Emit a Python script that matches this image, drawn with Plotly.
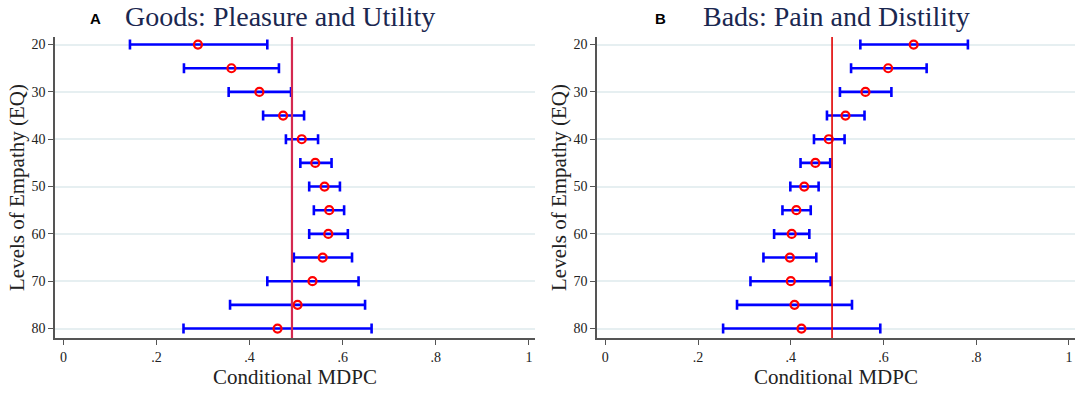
import plotly.graph_objects as go

eq_levels = [20, 25, 30, 35, 40, 45, 50, 55, 60, 65, 70, 75, 80]

goods_mdpc = [0.289, 0.361, 0.421, 0.472, 0.512, 0.541, 0.561, 0.571, 0.569, 0.557, 0.535, 0.503, 0.460]
goods_low = [0.143, 0.259, 0.355, 0.429, 0.478, 0.509, 0.528, 0.538, 0.528, 0.495, 0.438, 0.358, 0.258]
goods_high = [0.438, 0.463, 0.489, 0.517, 0.547, 0.576, 0.594, 0.603, 0.611, 0.620, 0.634, 0.648, 0.662]

bads_mdpc = [0.665, 0.610, 0.561, 0.518, 0.482, 0.453, 0.429, 0.412, 0.402, 0.398, 0.400, 0.408, 0.423]
bads_low = [0.550, 0.530, 0.506, 0.478, 0.450, 0.421, 0.399, 0.382, 0.364, 0.341, 0.313, 0.284, 0.254]
bads_high = [0.782, 0.693, 0.617, 0.559, 0.516, 0.485, 0.460, 0.443, 0.440, 0.455, 0.486, 0.532, 0.593]

ref_lines = [0.491, 0.489]  # overall MDPC reference (goods, bads)

x_tickvals = [0, 0.2, 0.4, 0.6, 0.8, 1]
x_ticktext = ["0", ".2", ".4", ".6", ".8", "1"]
y_tickvals = [20, 30, 40, 50, 60, 70, 80]
y_ticktext = ["20", "30", "40", "50", "60", "70", "80"]

panel_titles = ["Goods: Pleasure and Utility", "Bads: Pain and Distility"]
panel_letters = ["A", "B"]

SERIF = "Liberation Serif, DejaVu Serif, serif"

W, H = 1084, 394


def px(xp):
    return xp / W


def py(yp):
    return 1 - yp / H


fig = go.Figure()

panels = [
    (goods_mdpc, goods_low, goods_high, "x", "y"),
    (bads_mdpc, bads_low, bads_high, "x2", "y2"),
]
for est, lo, hi, xa, ya in panels:
    plus = [h - e for h, e in zip(hi, est)]
    minus = [e - l for e, l in zip(est, lo)]
    fig.add_trace(go.Scatter(
        x=est, y=eq_levels, xaxis=xa, yaxis=ya, mode="markers",
        marker=dict(symbol="circle-open", size=8, color="#ff0000",
                    line=dict(width=2.2, color="#ff0000")),
        error_x=dict(type="data", symmetric=False, array=plus, arrayminus=minus,
                     color="#0000ff", thickness=2.6, width=5),
        showlegend=False, hoverinfo="skip",
    ))

line_colors = ["#d4294f", "#e00000"]
line_widths = [2.2, 1.6]
for i, (xa, ya) in enumerate([("x", "y"), ("x2", "y2")]):
    fig.add_shape(type="line", xref=xa, yref="y domain" if i == 0 else "y2 domain",
                  x0=ref_lines[i], x1=ref_lines[i], y0=0, y1=1,
                  line=dict(color=line_colors[i], width=line_widths[i]), layer="above")

axis_common_x = dict(
    range=[-0.018, 1.013], tickvals=x_tickvals, ticktext=x_ticktext, automargin=False,
    showgrid=False, zeroline=False, showline=True, linecolor="#555555", linewidth=1.5,
    ticks="outside", ticklen=5, tickcolor="#555555", tickwidth=1.2,
    tickfont=dict(family=SERIF, size=14, color="#222222"),
    title=dict(text="Conditional MDPC", font=dict(family=SERIF, size=21, color="#222222"), standoff=0),
)
axis_common_y = dict(
    range=[82.0, 18.4], tickvals=y_tickvals, ticktext=y_ticktext, automargin=False,
    showgrid=True, gridcolor="#e6eff1", gridwidth=1.5, zeroline=False,
    showline=True, linecolor="#555555", linewidth=1.5,
    ticks="outside", ticklen=5, tickcolor="#555555", tickwidth=1.2,
    tickfont=dict(family=SERIF, size=14, color="#222222"),
    title=dict(text="Levels of Empathy (EQ)", font=dict(family=SERIF, size=21, color="#222222"), standoff=1),
)

fig.update_layout(
    width=W, height=H,
    margin=dict(l=0, r=0, t=0, b=0, autoexpand=False),
    paper_bgcolor="white", plot_bgcolor="white",
    xaxis=dict(domain=[px(55), px(535)], anchor="y", **axis_common_x),
    yaxis=dict(domain=[py(338), py(37)], anchor="x", **axis_common_y),
    xaxis2=dict(domain=[px(597), px(1075)], anchor="y2", **axis_common_x),
    yaxis2=dict(domain=[py(338), py(37)], anchor="x2", **axis_common_y),
)

title_centers = [280, 836]
letter_centers = [95, 660]
for i in range(2):
    fig.add_annotation(text=panel_titles[i], xref="paper", yref="paper",
                       x=px(title_centers[i]), y=py(17), xanchor="center", yanchor="middle",
                       showarrow=False, font=dict(family=SERIF, size=28, color="#1a2750"))
    fig.add_annotation(text="<b>" + panel_letters[i] + "</b>", xref="paper", yref="paper",
                       x=px(letter_centers[i]), y=py(18), xanchor="center", yanchor="middle",
                       showarrow=False, font=dict(family="Liberation Sans, Arial, sans-serif", size=15, color="#000000"))

fig.write_html(
    "out.html",
    config={"displayModeBar": False},
    post_script="document.body.style.margin='0';document.body.style.padding='0';",
)
